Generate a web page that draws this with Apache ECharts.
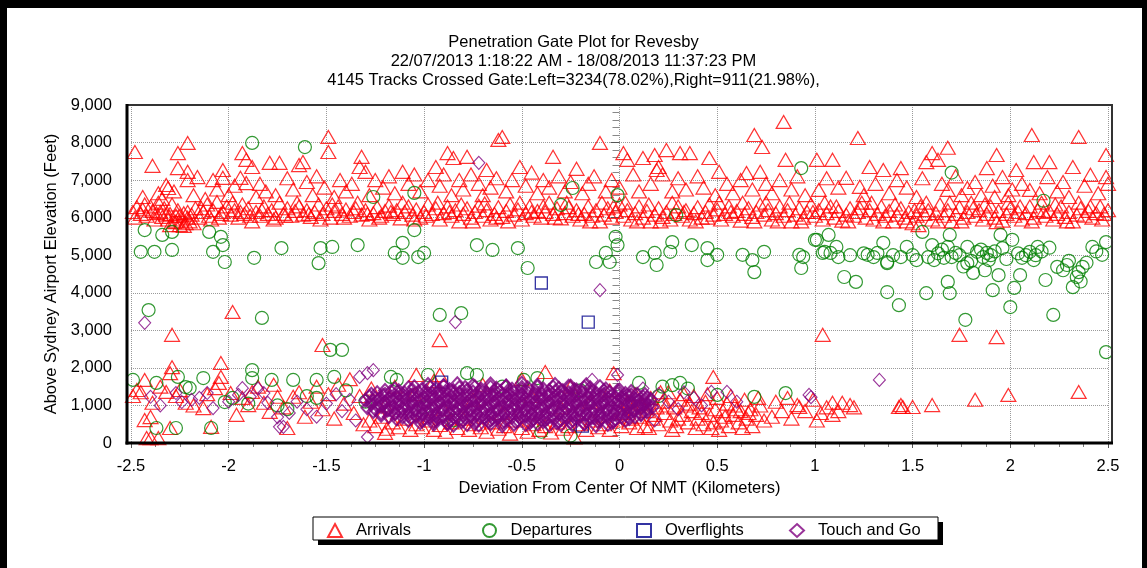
<!DOCTYPE html>
<html>
<head>
<meta charset="utf-8">
<script src="https://cdn.jsdelivr.net/npm/echarts@6/dist/echarts.min.js"></script>
<style>
html,body{margin:0;padding:0;background:#fff;}
#c{width:1147px;height:568px;}
</style>
</head>
<body>
<div id="c"></div>
<script>
var titleLines = [
  'Penetration Gate Plot for Revesby',
  '22/07/2013 1:18:22 AM - 18/08/2013 11:37:23 PM',
  '4145 Tracks Crossed Gate:Left=3234(78.02%),Right=911(21.98%),'
];
var seriesNames = ['Arrivals', 'Departures', 'Overflights', 'Touch and Go'];
var legendIcons = ['triangle', 'circle', 'rect', 'diamond'];
var xTicks = [-2.5, -2, -1.5, -1, -0.5, 0, 0.5, 1, 1.5, 2, 2.5];
var yTicks = [0, 1000, 2000, 3000, 4000, 5000, 6000, 7000, 8000, 9000];

// Arrivals: main band around 6,000-6,400 ft
var arrBand = [[-2.49,6150],[-2.47,6280],[-2.45,6100],[-2.44,6220],[-2.42,6050],[-2.40,6300],[-2.39,6180],[-2.37,6120],[-2.36,6400],[-2.34,6020],[-2.33,6250],[-2.31,5950],[-2.30,6100],[-2.29,6350],[-2.28,5880],[-2.27,6050],[-2.26,6200],[-2.25,5800],[-2.24,5950],[-2.23,6120],[-2.22,5850],[-2.21,6000],[-2.20,5900],[-2.19,6080],[-2.17,6250],[-2.15,6000],[-2.13,6150],[-2.11,6350],[-2.10,6050],[-2.08,6200],[-2.06,6420],[-2.05,6000],[-2.03,6150],[-2.01,6300],[-1.99,6080],[-1.97,6200],[-1.95,6000],[-1.93,6350],[-1.92,6100],[-1.90,6250],[-1.88,5900],[-1.86,6150],[-1.84,6050],[-1.82,6300],[-1.80,6100],[-1.78,6200],[-1.76,6000],[-1.74,6400],[-1.72,6100],[-1.70,6250],[-1.68,6050],[-1.66,6180],[-1.64,6300],[-1.62,6080],[-1.60,6200],[-1.58,6020],[-1.56,6150],[-1.54,6350],[-1.52,6100],[-1.50,6250],[-1.48,6000],[-1.46,6180],[-1.44,6300],[-1.42,6100],[-1.40,6220],[-1.38,6050],[-1.36,6150],[-1.34,6400],[-1.32,6080],[-1.30,6200],[-1.28,5950],[-1.26,6120],[-1.24,6280],[-1.22,6050],[-1.20,6180],[-1.18,6320],[-1.16,6100],[-1.14,6200],[-1.12,5980],[-1.10,6150],[-1.08,6300],[-1.06,6080],[-1.04,6220],[-1.02,6000],[-1.00,6150],[-0.98,6350],[-0.96,6100],[-0.94,6250],[-0.92,5950],[-0.90,6120],[-0.88,6300],[-0.86,6050],[-0.84,6200],[-0.82,5900],[-0.80,6100],[-0.78,6250],[-0.76,6000],[-0.74,6150],[-0.72,6320],[-0.70,6050],[-0.68,6200],[-0.66,5950],[-0.64,6100],[-0.62,6280],[-0.60,6020],[-0.58,6180],[-0.56,6350],[-0.54,6080],[-0.52,6220],[-0.50,5950],[-0.48,6120],[-0.46,6300],[-0.44,6050],[-0.42,6180],[-0.40,6000],[-0.38,6150],[-0.36,6400],[-0.34,6100],[-0.32,6250],[-0.30,5980],[-0.28,6120],[-0.26,6280],[-0.24,6050],[-0.22,6200],[-0.20,5950],[-0.18,6100],[-0.16,6300],[-0.14,6050],[-0.12,6200],[-0.10,5900],[-0.08,6080],[-0.06,6250],[-0.04,6000],[-0.02,6150],[0.00,6350],[0.02,6050],[0.04,6200],[0.06,5950],[0.08,6120],[0.10,6300],[0.12,6000],[0.14,6180],[0.16,5900],[0.18,6080],[0.20,6250],[0.22,6020],[0.24,6150],[0.26,5950],[0.28,6100],[0.30,6300],[0.32,6050],[0.34,6200],[0.36,5950],[0.38,6120],[0.40,6280],[0.42,6000],[0.44,6150],[0.46,6350],[0.48,6080],[0.50,6220],[0.52,5950],[0.54,6100],[0.56,6300],[0.58,6050],[0.60,6180],[0.62,5920],[0.64,6100],[0.66,6250],[0.68,6020],[0.70,6150],[0.72,6350],[0.74,6080],[0.76,6200],[0.78,5950],[0.80,6120],[0.82,6300],[0.84,6050],[0.86,6200],[0.88,5900],[0.90,6080],[0.92,6250],[0.94,6000],[0.96,6150],[0.98,6350],[1.00,6050],[1.02,6200],[1.04,5950],[1.06,6120],[1.08,6300],[1.10,6000],[1.12,6180],[1.14,5920],[1.16,6080],[1.18,6250],[1.20,6050],[1.22,6150],[1.24,6400],[1.26,6000],[1.28,6200],[1.30,5950],[1.32,6100],[1.34,6300],[1.36,6050],[1.38,6180],[1.40,5900],[1.42,6080],[1.44,6250],[1.46,6000],[1.48,6150],[1.50,5850],[1.52,6050],[1.54,6300],[1.56,6100],[1.58,6200],[1.60,5950],[1.62,6120],[1.64,6350],[1.66,6050],[1.68,6200],[1.70,5900],[1.72,6100],[1.74,6280],[1.76,6000],[1.78,6150],[1.80,6400],[1.82,6050],[1.84,6200],[1.86,5950],[1.88,6100],[1.90,6300],[1.92,6000],[1.94,6180],[1.96,5920],[1.98,6100],[2.00,6250],[2.02,6050],[2.04,6150],[2.06,5950],[2.08,6120],[2.10,6300],[2.12,6000],[2.14,6200],[2.16,6400],[2.18,6050],[2.20,6180],[2.22,5950],[2.24,6100],[2.26,6300],[2.28,6020],[2.30,6150],[2.32,5900],[2.34,6080],[2.36,6250],[2.38,6050],[2.40,6180],[2.42,6000],[2.44,6120],[2.46,6300],[2.48,6100],[2.50,6200],
[-2.48,6000],[-2.43,6350],[-2.38,5950],[-2.35,6150],[-2.32,6080],[-2.30,5800],[-2.27,5900],[-2.25,6050],[-2.23,5780],[-2.21,6150],[-2.18,5850],[-2.14,6250],[-2.09,5950],[-2.04,6100],[-1.98,6400],[-1.94,6150],[-1.89,6050],[-1.83,6200],[-1.77,5950],[-1.71,6050],[-1.65,6400],[-1.59,6100],[-1.53,5950],[-1.47,6350],[-1.41,6000],[-1.35,6250],[-1.29,6100],[-1.23,6000],[-1.17,6150],[-1.11,6400],[-1.05,5950],[-0.99,6050],[-0.93,6400],[-0.87,6150],[-0.81,6350],[-0.75,5900],[-0.69,6380],[-0.63,6000],[-0.57,5900],[-0.51,6400],[-0.45,6150],[-0.39,6300],[-0.33,6000],[-0.27,6400],[-0.21,6100],[-0.15,5900],[-0.09,6400],[-0.03,6300],[0.03,6400],[0.09,5900],[0.15,6350],[0.21,5900],[0.27,6400],[0.33,6150],[0.39,5900],[0.45,6000],[0.51,6400],[0.57,6150],[0.63,6400],[0.69,5900],[0.75,6400],[0.81,5900],[0.87,6400],[0.93,5900],[0.99,6150],[1.05,6400],[1.11,6300],[1.17,5900],[1.23,6250],[1.29,6400],[1.35,5900],[1.41,6350],[1.47,5900],[1.51,6200],[1.53,5800],[1.57,6400],[1.63,5900],[1.69,6400],[1.75,5900],[1.81,6250],[1.87,6350],[1.93,5880],[1.99,6400],[2.05,6300],[2.11,5900],[2.17,6150],[2.23,6350],[2.29,5900],[2.35,6400],[2.41,6300],[2.47,5950]];

// Arrivals: scatter above the main band
var arrHigh = [[-2.48,7750],[-2.39,7380],[-2.21,7990],[-2.26,7720],[-2.26,7320],[-2.21,7220],[-2.32,6870],[-2.31,6790],[-2.21,7000],[-2.16,7080],[-2.08,7000],[-2.03,7270],[-2.03,7060],[-1.94,7060],[-1.91,6920],[-1.93,7720],[-1.91,7540],[-1.88,7350],[-1.79,7460],[-1.74,7460],[-1.64,7400],[-1.62,7480],[-1.49,8150],[-1.49,7750],[-1.32,7620],[-1.33,7350],[-1.30,7220],[-1.11,7220],[-0.94,7350],[-0.88,7720],[-0.85,7590],[-0.78,7620],[-0.68,7270],[-0.62,8070],
[-2.44,6550],[-2.36,6650],[-2.34,6500],[-2.28,6700],[-2.18,6600],[-2.12,6500],[-2.06,6750],[-2.00,6600],[-1.97,6850],[-1.86,6550],[-1.84,6900],[-1.81,6700],[-1.76,6600],[-1.70,7050],[-1.67,6750],[-1.60,6950],[-1.57,6600],[-1.55,7100],[-1.51,6800],[-1.46,6550],[-1.43,7000],[-1.40,6700],[-1.37,6900],[-1.28,6600],[-1.25,7000],[-1.21,6800],[-1.18,7100],[-1.15,6650],[-1.08,6900],[-1.05,7150],[-1.02,6700],[-0.98,7000],[-0.92,6850],[-0.90,7150],[-0.86,6600],[-0.82,7000],[-0.80,6750],[-0.76,7150],[-0.72,6900],[-0.70,6600],[-0.66,6800],[-0.63,7050],[-0.58,6700],[-0.55,7000],[-0.51,7350],[-0.60,8150],[-0.48,6850],[-0.45,7200],[-0.42,6650],[-0.39,7000],[-0.34,7620],[-0.36,6800],[-0.31,7100],[-0.28,6700],[-0.25,6950],[-0.22,7300],[-0.19,6650],[-0.10,7990],[-0.16,6900],[-0.13,7100],[-0.07,6700],[-0.04,7000],[0.02,7720],[0.04,7540],[0.00,6800],[0.07,7150],[0.10,6700],[0.12,7590],[0.18,7670],[0.24,7800],[0.31,7720],[0.36,7720],[0.46,7590],[0.19,7270],[0.20,7350],[0.16,6900],[0.22,7150],[0.27,6700],[0.30,7050],[0.34,6750],[0.40,7100],[0.43,6800],[0.49,6600],[0.51,7220],[0.55,6900],[0.58,6650],[0.62,7000],[0.65,7190],[0.68,6750],[0.72,7220],[0.75,6900],[0.69,8200],[0.73,7880],[0.84,8550],[0.85,7540],[0.78,6650],[0.82,7000],[0.88,6750],[0.91,7100],[0.95,6600],[1.01,7540],[1.09,7540],[1.02,6740],[1.06,7050],[1.12,6800],[1.16,7060],[1.22,8120],[1.23,6820],[1.28,7350],[1.35,7270],[1.42,7000],[1.44,7320],[1.57,7480],[1.60,7720],[1.63,7540],[1.68,7860],[1.68,6740],[1.78,6790],[1.88,7320],[1.93,7670],[1.96,7080],[2.03,7270],[2.10,6740],[2.11,8200],[2.12,7480],[2.19,7080],[2.20,7480],[2.27,6950],[2.32,7350],[2.35,8150],[2.41,7140],[2.49,7670],[2.49,7080],
[1.25,6600],[1.31,6900],[1.38,6650],[1.47,6800],[1.52,6550],[1.55,7050],[1.65,6900],[1.72,7100],[1.75,6600],[1.82,6950],[1.85,6600],[1.91,6850],[1.99,6600],[2.06,6900],[2.15,6650],[2.24,6700],[2.30,6550],[2.38,6850],[2.45,6650],[2.50,6900],[1.92,6550],[2.01,6750]];

// Arrivals: low level, scattered
var arrLow = [[-2.47,1410],[-2.43,1680],[-2.43,610],[-2.39,1070],[-2.40,690],[-2.40,130],[-2.36,130],[-2.30,1860],[-2.29,2020],[-2.32,1360],[-2.30,400],[-2.25,1410],[-2.22,1070],[-2.13,930],[-2.09,430],[-2.07,1460],[-2.04,2130],[-2.04,1760],[-1.99,1330],[-1.96,750],[-1.90,1010],[-1.88,1360],[-1.82,1070],[-1.79,830],[-1.75,1230],[-1.70,400],[-1.67,1230],[-2.42,130],[-2.29,2880],[-1.98,3490],[-1.52,2610],[-0.92,2740],[-2.49,1250],[-2.45,1350],[-2.35,1500],[-2.27,1250],[-2.18,1000],[-2.11,1300],[-2.05,1600],[-1.93,1200],[-1.85,1500],[-1.77,1550],[-1.72,950],[-1.64,1350],[-1.61,700],[-1.58,1100],[-1.55,1500],[-1.52,900],[-1.49,1300],[-1.46,650],[-1.44,1550],[-1.41,1050],[-1.38,1700],[-1.36,800],[-1.33,1250],[-1.31,500],[-1.27,1450],[-1.20,270],[-1.04,1810],[-0.92,1810],[-0.38,1890],[-0.03,1860],[0.48,1760],[1.04,2880],[1.74,2880],[1.93,2820],[2.35,1360],[1.99,1280],[1.82,1150],[1.60,1010],[1.50,960],[1.44,1010],[1.45,960],[1.18,1010],[1.14,1070],[1.09,1070],[1.09,750],[1.03,800],[0.92,960],[0.91,1010],[1.43,960],
[0.78,700],[0.80,1100],[0.83,850],[0.86,1200],[0.88,650],[0.95,850],[0.99,1150],[1.01,600],[1.06,950],[1.12,850],[1.20,950]];

// Arrivals: low level, dense area near the centre line
var arrCluster = [[-1.28,600],[-1.25,450],[-1.22,700],[-1.19,380],[-1.16,550],[-1.13,420],[-1.10,650],[-1.07,350],[-1.04,500],[-1.01,420],[-0.98,600],[-0.95,350],[-0.92,480],[-0.89,300],[-0.86,550],[-0.83,400],[-0.80,650],[-0.77,350],[-0.74,500],[-0.71,420],[-0.68,300],[-0.65,550],[-0.62,380],[-0.59,450],[-0.56,250],[-0.53,600],[-0.50,400],[-0.47,300],[-0.44,500],[-0.41,350],[-0.38,450],[-0.35,280],[-0.32,550],[-0.29,380],[-0.26,450],[-0.23,150],[-0.20,500],[-0.17,350],[-0.14,600],[-0.11,420],[-0.08,500],[-0.05,350],[-0.02,600],[0.01,450],
[-1.20,1000],[-1.05,1300],[-0.90,900],[-0.75,1150],[-0.60,800],[-0.45,1250],[-0.30,950],[-0.15,1100],[-1.15,1500],[-0.95,1650],[-0.70,1550],[-0.50,1700],[-0.25,1500],[-0.05,1400],
[0.02,800],[0.04,1100],[0.05,550],[0.07,950],[0.08,1300],[0.10,700],[0.11,1050],[0.13,450],[0.14,850],[0.16,1200],[0.17,650],[0.19,950],[0.20,500],[0.22,1100],[0.23,800],[0.25,1350],[0.26,600],[0.28,950],[0.29,450],[0.31,1150],[0.32,750],[0.34,1000],[0.35,550],[0.37,850],[0.38,1250],[0.40,650],[0.41,950],[0.43,500],[0.44,1100],[0.46,750],[0.47,400],[0.49,900],[0.50,1200],[0.52,600],[0.53,850],[0.55,1050],[0.56,450],[0.58,750],[0.59,1000],[0.61,550],[0.62,850],[0.64,1150],[0.65,650],[0.67,900],[0.68,450],[0.70,750],[0.72,1000],[0.74,600],[0.06,650],[0.12,1000],[0.18,750],[0.24,1000],[0.30,650],[0.36,1050],[0.42,800],[0.48,550],[0.54,700],[0.60,900],[0.66,800],[0.15,400],[0.27,350],[0.33,1300],[0.45,1300],[0.57,1250],[0.39,400],[0.51,350],[0.63,400],[0.71,1200],[0.21,1350],[0.09,400]];

// Departures
var depHigh = [[-1.88,7990],[-1.61,7880],[-1.26,6550],[-1.05,6660],[-0.24,6790],[-0.30,6340],[-0.01,6600],[0.29,6070],[0.93,7320],[1.70,7200],[2.17,6450]];
var depMid = [[-2.43,5670],[-2.34,5540],[-2.29,5620],[-2.45,5090],[-2.38,5090],[-2.29,5140],[-2.10,5620],[-2.04,5490],[-2.03,5270],[-2.08,5090],[-2.02,4820],[-1.87,4930],[-1.73,5190],[-1.54,4790],[-1.53,5190],[-1.47,5220],[-1.34,5270],[-1.15,5060],[-1.11,5330],[-1.11,4930],[-1.05,5670],[-1.03,4950],[-1.00,5060],[-0.73,5270],[-0.65,5140],[-0.52,5190],[-0.47,4660],[-0.02,5490],[-0.01,5270],[-0.07,5060],[-0.12,4820],[-0.05,4820],[0.12,4950],[0.18,5060],[0.19,4740],[0.26,5090],[0.27,5350],[0.37,5270],[0.45,5190],[0.50,5010],[0.45,4870],[0.63,5010],[0.68,4870],[0.69,4550],[0.74,5090],[0.92,5010],[0.93,4660],[1.01,5410],[1.07,5540],[1.05,5090],[1.15,4420],[1.21,4290],[1.27,5010],[1.35,5330],[1.37,4790],
[1.00,5410],[1.04,5060],[1.08,5060],[1.11,5220],[0.94,4950],[1.32,5060],[1.37,4820],[1.37,4020],[1.43,3670],[1.44,4950],[1.47,5220],[1.52,4870],[1.55,5620],[1.57,3990],[1.60,5270],[1.61,4870],[1.66,4930],[1.68,5220],[1.69,5540],[1.68,4290],[1.69,3990],[1.72,5060],[1.77,3280],[1.78,5220],[1.78,4790],[1.81,4530],[1.83,5090],[1.88,5060],[1.89,4870],[1.91,4070],[1.95,5540],[1.94,4470],[1.96,5190],[2.00,3620],[2.01,5410],[2.02,4130],[2.05,4470],[2.06,4930],[2.10,5090],[2.12,4870],[2.14,5220],[2.18,4340],[2.22,3410],[2.24,4690],[2.29,4740],[2.32,4150],[2.34,4420],[2.37,4690],[2.42,5220],[2.47,5010],[2.49,5350],[2.49,2420],
[1.63,5050],[1.65,5150],[1.70,4950],[1.74,5000],[1.86,4950],[1.90,5000],[1.92,5100],[1.98,4900],[2.08,5000],[2.13,5000],[2.16,5100],[2.20,5200],[2.27,4600],[2.30,4850],[2.35,4550],[2.39,4800],[1.85,5150],[1.76,4700],[1.58,4950],[1.50,5000],[1.40,5000],[1.30,4950],[1.25,5050],[1.18,5000],[1.12,4950],[2.44,5100],[2.36,4300],[2.04,5050],[1.87,4600],[1.80,4850],
[-2.41,3540],[-1.83,3330],[-0.92,3410],[-0.81,3460],[-1.48,2480],[-1.42,2480]];
var depLow = [[-2.49,1680],[-2.37,1600],[-2.26,1760],[-2.22,1490],[-2.20,1460],[-2.13,1730],[-2.02,1090],[-1.98,1200],[-1.88,1940],[-1.88,1730],[-1.78,1680],[-1.67,1680],[-1.55,1680],[-1.46,1760],[-1.17,1760],[-1.14,1680],[-0.98,1810],[-0.78,1860],[-0.73,1810],[-2.37,400],[-2.27,400],[-2.09,400],[-0.49,1680],[-0.42,1730],[0.27,1540],[0.31,1600],[0.50,1280],[0.69,1230],[0.85,1330],[-1.30,1100],[-1.60,1250],[-1.70,900],[-1.40,1400],[-0.60,1500],[-0.20,1400],[0.20,1250],[0.10,1600],[-1.00,950],[-0.85,600],[-0.40,300],[-0.25,200],[0.22,1500],[0.35,1450],[-1.90,1050],[-1.75,1000],[-1.55,1200]];

// Overflights
var overflights = [[-0.40,4260],[-0.16,3220],[-0.91,1620],[-0.19,450]];

// Touch and Go: scattered
var tgScatter = [[-2.43,3200],[-0.84,3220],[-0.10,4070],[-0.72,7460],[1.33,1680],[0.97,1280],[0.98,1220],[-2.40,1230],[-2.27,1330],[-2.24,1090],[-2.19,1150],[-2.11,1330],[-2.08,930],[-1.95,1280],[-1.93,1460],[-1.89,1230],[-1.82,1330],[-1.80,1070],[-1.75,690],[-1.72,430],[-1.69,800],[-1.74,430],[-1.26,1940],[-1.29,1860],[-1.33,1760],[-1.29,160],[-0.14,1680],[-0.01,1810],[0.47,1360],[0.55,1360],[-2.35,1000],[-2.15,1200],[-2.00,1100],[-1.85,1450],[-1.65,1100],[-1.60,900],[-1.55,700],[-1.50,1050],[-1.45,1300],[-1.42,850],[-1.38,1150],[-1.35,600],[0.20,1300],[0.25,1100],[0.30,900],[0.38,1200],[0.42,1000],[0.60,1100],[0.18,600],[0.12,1450],[0.33,1350]];

// Touch and Go: dense mass near the centre line
var tgCluster = [[-0.98,1560],[-0.90,1530],[-0.83,1580],[-0.75,1540],[-0.66,1570],[-0.58,1520],[-0.50,1590],[-0.42,1540],[-0.33,1560],[-0.25,1510],[-0.17,1550],
[-1.15,1440],[-1.08,1470],[-1.01,1430],[-0.94,1460],[-0.87,1420],[-0.79,1480],[-0.71,1440],[-0.63,1460],[-0.55,1430],[-0.47,1470],[-0.39,1440],[-0.31,1460],[-0.23,1420],[-0.15,1470],[-0.07,1440],[0.00,1410],
[-1.24,1340],[-1.17,1370],[-1.10,1330],[-1.03,1360],[-0.96,1320],[-0.89,1370],[-0.82,1340],[-0.75,1360],[-0.68,1330],[-0.61,1370],[-0.54,1340],[-0.47,1350],[-0.40,1320],[-0.33,1370],[-0.26,1340],[-0.19,1360],[-0.12,1330],[-0.05,1360],[0.03,1320],[0.09,1300],
[-1.28,1240],[-1.21,1270],[-1.14,1230],[-1.07,1260],[-1.00,1220],[-0.93,1270],[-0.86,1240],[-0.79,1260],[-0.72,1230],[-0.65,1270],[-0.58,1240],[-0.51,1250],[-0.44,1220],[-0.37,1270],[-0.30,1240],[-0.23,1260],[-0.16,1230],[-0.09,1260],[-0.02,1220],[0.05,1250],[0.12,1230],
[-1.30,1140],[-1.23,1170],[-1.16,1130],[-1.09,1160],[-1.02,1120],[-0.95,1170],[-0.88,1140],[-0.81,1160],[-0.74,1130],[-0.67,1170],[-0.60,1140],[-0.53,1150],[-0.46,1120],[-0.39,1170],[-0.32,1140],[-0.25,1160],[-0.18,1130],[-0.11,1160],[-0.04,1120],[0.03,1150],[0.10,1130],[0.16,1160],
[-1.27,1040],[-1.20,1070],[-1.13,1030],[-1.06,1060],[-0.99,1020],[-0.92,1070],[-0.85,1040],[-0.78,1060],[-0.71,1030],[-0.64,1070],[-0.57,1040],[-0.50,1050],[-0.43,1020],[-0.36,1070],[-0.29,1040],[-0.22,1060],[-0.15,1030],[-0.08,1060],[-0.01,1020],[0.06,1050],[0.13,1030],
[-1.29,940],[-1.22,970],[-1.15,930],[-1.08,960],[-1.01,920],[-0.94,970],[-0.87,940],[-0.80,960],[-0.73,930],[-0.66,970],[-0.59,940],[-0.52,950],[-0.45,920],[-0.38,970],[-0.31,940],[-0.24,960],[-0.17,930],[-0.10,960],[-0.03,920],[0.04,950],[0.11,930],[0.17,960],
[-1.26,840],[-1.19,870],[-1.12,830],[-1.05,860],[-0.98,820],[-0.91,870],[-0.84,840],[-0.77,860],[-0.70,830],[-0.63,870],[-0.56,840],[-0.49,850],[-0.42,820],[-0.35,870],[-0.28,840],[-0.21,860],[-0.14,830],[-0.07,860],[0.00,820],[0.07,850],[0.14,830],
[-1.22,740],[-1.15,770],[-1.08,730],[-1.01,760],[-0.94,720],[-0.87,770],[-0.80,740],[-0.73,760],[-0.66,730],[-0.59,770],[-0.52,740],[-0.45,750],[-0.38,720],[-0.31,770],[-0.24,740],[-0.17,760],[-0.10,730],[-0.03,760],[0.04,720],[0.11,750],
[-1.14,640],[-1.07,670],[-1.00,630],[-0.93,660],[-0.86,620],[-0.79,670],[-0.72,640],[-0.65,660],[-0.58,630],[-0.51,670],[-0.44,640],[-0.37,650],[-0.30,620],[-0.23,670],[-0.16,640],[-0.09,660],[-0.02,630],[0.05,650],
[-1.02,540],[-0.95,570],[-0.88,530],[-0.81,560],[-0.74,520],[-0.67,570],[-0.60,540],[-0.53,560],[-0.46,530],[-0.39,570],[-0.32,540],[-0.25,550],[-0.18,520],[-0.11,570],[-0.04,540],
[-0.85,470],[-0.72,480],[-0.60,460],[-0.48,490],[-0.36,470],[-0.24,480],[-0.12,460],
[-1.05,1500],[-0.97,1490],[-0.90,1510],[-0.82,1480],[-0.74,1500],[-0.66,1490],[-0.58,1510],[-0.50,1480],[-0.42,1500],[-0.34,1490],[-0.26,1510],[-0.18,1480],[-0.10,1500],
[-1.20,1400],[-1.13,1390],[-1.06,1410],[-0.99,1380],[-0.92,1400],[-0.85,1390],[-0.78,1410],[-0.71,1380],[-0.64,1400],[-0.57,1390],[-0.50,1410],[-0.43,1380],[-0.36,1400],[-0.29,1390],[-0.22,1410],[-0.15,1380],[-0.08,1400],[-0.01,1390],[0.06,1370],
[-1.27,1300],[-1.20,1290],[-1.13,1310],[-1.06,1280],[-0.99,1300],[-0.92,1290],[-0.85,1310],[-0.78,1280],[-0.71,1300],[-0.64,1290],[-0.57,1310],[-0.50,1280],[-0.43,1300],[-0.36,1290],[-0.29,1310],[-0.22,1280],[-0.15,1300],[-0.08,1290],[-0.01,1310],[0.06,1280],[0.13,1290],
[-1.25,1200],[-1.18,1190],[-1.11,1210],[-1.04,1180],[-0.97,1200],[-0.90,1190],[-0.83,1210],[-0.76,1180],[-0.69,1200],[-0.62,1190],[-0.55,1210],[-0.48,1180],[-0.41,1200],[-0.34,1190],[-0.27,1210],[-0.20,1180],[-0.13,1200],[-0.06,1190],[0.01,1210],[0.08,1180],[0.14,1200],
[-1.27,1100],[-1.20,1090],[-1.13,1110],[-1.06,1080],[-0.99,1100],[-0.92,1090],[-0.85,1110],[-0.78,1080],[-0.71,1100],[-0.64,1090],[-0.57,1110],[-0.50,1080],[-0.43,1100],[-0.36,1090],[-0.29,1110],[-0.22,1080],[-0.15,1100],[-0.08,1090],[-0.01,1110],[0.06,1080],[0.13,1100],
[-1.24,1000],[-1.17,990],[-1.10,1010],[-1.03,980],[-0.96,1000],[-0.89,990],[-0.82,1010],[-0.75,980],[-0.68,1000],[-0.61,990],[-0.54,1010],[-0.47,980],[-0.40,1000],[-0.33,990],[-0.26,1010],[-0.19,980],[-0.12,1000],[-0.05,990],[0.02,1010],[0.09,980],[0.15,1000],
[-1.25,900],[-1.18,890],[-1.11,910],[-1.04,880],[-0.97,900],[-0.90,890],[-0.83,910],[-0.76,880],[-0.69,900],[-0.62,890],[-0.55,910],[-0.48,880],[-0.41,900],[-0.34,890],[-0.27,910],[-0.20,880],[-0.13,900],[-0.06,890],[0.01,910],[0.08,880],[0.14,900],
[-1.22,800],[-1.15,790],[-1.08,810],[-1.01,780],[-0.94,800],[-0.87,790],[-0.80,810],[-0.73,780],[-0.66,800],[-0.59,790],[-0.52,810],[-0.45,780],[-0.38,800],[-0.31,790],[-0.24,810],[-0.17,780],[-0.10,800],[-0.03,790],[0.04,810],[0.11,780],
[-1.18,700],[-1.11,690],[-1.04,710],[-0.97,680],[-0.90,700],[-0.83,690],[-0.76,710],[-0.69,680],[-0.62,700],[-0.55,690],[-0.48,710],[-0.41,680],[-0.34,700],[-0.27,690],[-0.20,710],[-0.13,680],[-0.06,700],[0.01,690],[0.08,700],
[-1.08,600],[-1.01,590],[-0.94,610],[-0.87,580],[-0.80,600],[-0.73,590],[-0.66,610],[-0.59,580],[-0.52,600],[-0.45,590],[-0.38,610],[-0.31,580],[-0.24,600],[-0.17,590],[-0.10,610],[-0.03,580],[0.03,600],
[-0.95,500],[-0.88,510],[-0.78,490],[-0.66,510],[-0.54,500],[-0.42,510],[-0.30,490],[-0.18,510],[-0.06,500]];

var FONT = 'Liberation Sans, Arial, sans-serif';
var RED = '#ff0000', GREEN = '#008000', BLUE = '#00008b', PURPLE = '#800080';
var hollow = 'rgba(255,255,255,0)';
var legendLefts = [327, 482, 636, 789];

var chart = echarts.init(document.getElementById('c'), null, {renderer: 'canvas'});
var legends = seriesNames.map(function (n, i) {
  return {
    data: [{name: n, icon: legendIcons[i]}],
    left: legendLefts[i], top: 522, padding: 0, itemGap: 0,
    itemWidth: 14, itemHeight: 13, selectedMode: false, z: 20,
    textStyle: {fontFamily: FONT, fontSize: 16.5, color: '#000', padding: [0, 0, 0, 9]}
  };
});
var option = {
  animation: false,
  backgroundColor: '#ffffff',
  title: {
    text: titleLines.join('\n'),
    left: 'center',
    top: 28,
    textStyle: {fontFamily: FONT, fontSize: 16.5, fontWeight: 'normal', color: '#000', lineHeight: 19}
  },
  legend: legends,
  grid: {left: 131, right: 39, top: 105, bottom: 125, containLabel: false},
  xAxis: {
    type: 'value', min: xTicks[0], max: xTicks[xTicks.length - 1], interval: 0.5,
    name: 'Deviation From Center Of NMT (Kilometers)', nameLocation: 'middle', nameGap: 37,
    nameTextStyle: {fontFamily: FONT, fontSize: 16.5, color: '#000'},
    axisLine: {show: false},
    axisTick: {show: true, length: 5, lineStyle: {color: '#555'}},
    minorTick: {show: true, splitNumber: 4, length: 4, lineStyle: {color: '#777'}},
    axisLabel: {fontFamily: FONT, fontSize: 16.5, color: '#000', margin: 15},
    splitLine: {show: true, lineStyle: {color: '#9a9a9a', type: 'dotted', width: 1}}
  },
  yAxis: {
    type: 'value', min: yTicks[0], max: yTicks[yTicks.length - 1], interval: 1000,
    name: 'Above Sydney Airport Elevation (Feet)', nameLocation: 'middle', nameGap: 71,
    nameTextStyle: {fontFamily: FONT, fontSize: 16.5, color: '#000'},
    axisLine: {show: false},
    axisTick: {show: true, length: 9, lineStyle: {color: '#555'}},
    minorTick: {show: true, splitNumber: 5, length: 7, lineStyle: {color: '#888'}},
    axisLabel: {fontFamily: FONT, fontSize: 16.5, color: '#000', margin: 19,
      formatter: function (v) { return v.toLocaleString('en-US'); }},
    splitLine: {show: true, lineStyle: {color: '#9a9a9a', type: 'dotted', width: 1}}
  },
  graphic: [
    {type: 'rect', z: 0, shape: {x: 318, y: 522, width: 625, height: 23}, style: {fill: '#000'}},
    {type: 'rect', z: 1, shape: {x: 313, y: 517, width: 625, height: 23}, style: {fill: '#fff', stroke: '#000', lineWidth: 1}},
    {type: 'rect', z: 100, shape: {x: 127, y: 105, width: 985, height: 338}, style: {fill: null, stroke: '#333', lineWidth: 2}},
    {type: 'line', z: 101, shape: {x1: 127, y1: 104, x2: 127, y2: 444.5}, style: {stroke: '#000', lineWidth: 3}},
    {type: 'line', z: 101, shape: {x1: 125.5, y1: 443, x2: 1113, y2: 443}, style: {stroke: '#000', lineWidth: 3}},
    {type: 'rect', z: 102, shape: {x: 0, y: 0, width: 1147, height: 8}, style: {fill: '#000'}},
    {type: 'rect', z: 102, shape: {x: 0, y: 0, width: 7, height: 568}, style: {fill: '#000'}},
    {type: 'rect', z: 102, shape: {x: 1142, y: 0, width: 5, height: 568}, style: {fill: '#000'}}
  ],
  series: [
    {name: seriesNames[0], type: 'scatter', symbol: 'triangle', symbolSize: [15, 13],
     data: arrBand.concat(arrHigh, arrLow, arrCluster),
     itemStyle: {color: hollow, borderColor: RED, borderWidth: 1.2}, z: 2},
    {name: seriesNames[1], type: 'scatter', symbol: 'circle', symbolSize: 13,
     data: depHigh.concat(depMid, depLow),
     itemStyle: {color: hollow, borderColor: GREEN, borderWidth: 1.2}, z: 3},
    {name: seriesNames[2], type: 'scatter', symbol: 'rect', symbolSize: 12,
     data: overflights,
     itemStyle: {color: hollow, borderColor: BLUE, borderWidth: 1.3}, z: 4},
    {name: seriesNames[3], type: 'scatter', symbol: 'diamond', symbolSize: [12, 13],
     data: tgScatter,
     itemStyle: {color: hollow, borderColor: PURPLE, borderWidth: 1.1}, z: 5},
    {name: seriesNames[3], type: 'scatter', symbol: 'diamond', symbolSize: [12, 13],
     data: tgCluster,
     itemStyle: {color: hollow, borderColor: PURPLE, borderWidth: 2}, z: 5}
  ]
};
chart.setOption(option);
</script>
</body>
</html>
